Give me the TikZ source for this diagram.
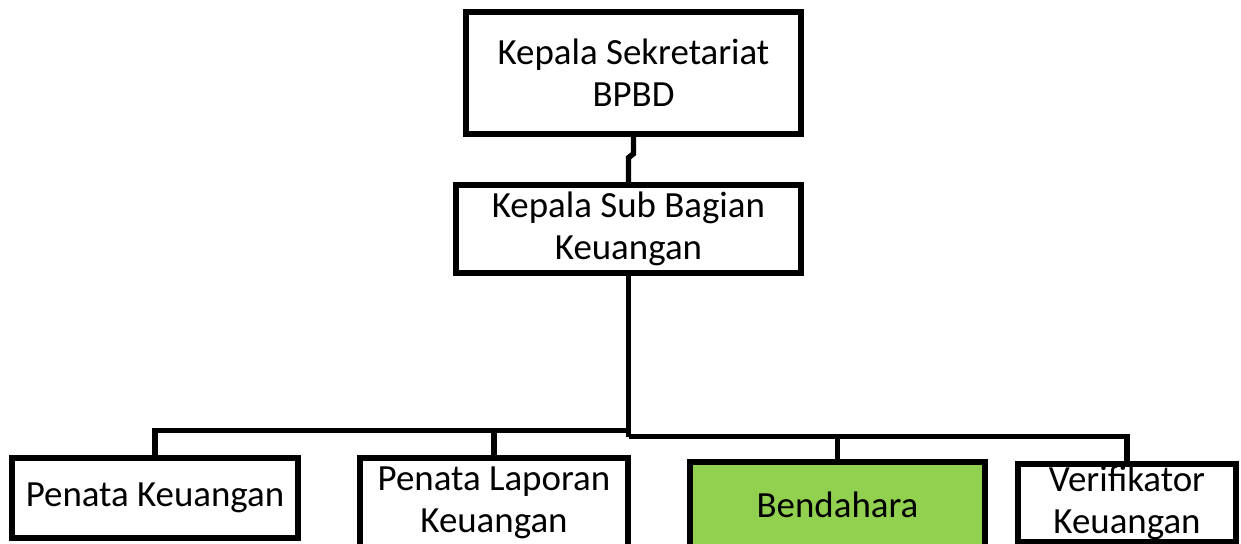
\documentclass[tikz,border=0pt]{standalone}
\usepackage{fontspec}
\setmainfont{Carlito}
\usepackage{tikz}
\usetikzlibrary{positioning, calc}
\usepackage{xcolor}
\definecolor{BoxGreen}{RGB}{146,208,80}
\tikzset{
  orgbox/.style={rectangle,draw=black,line width=3.1pt,fill=white,
    align=center,inner sep=0pt,font=\fontsize{21}{24}\selectfont},
  greenbox/.style={orgbox,fill=BoxGreen},
  link/.style={line width=3.1pt,color=black}
}

\begin{document}
\begin{tikzpicture}[x=0.02cm,y=-0.02cm]
  \useasboundingbox (0,0) rectangle (1241,544);
  \clip (0,0) rectangle (1241,544);
  \node[orgbox,minimum width=6.7cm,minimum height=2.44cm] (kasek) at (633.5,73) {Kepala Sekretariat\\BPBD};
  \node[orgbox,minimum width=6.9cm,minimum height=1.76cm] (kasubag) at (628.5,229) {Kepala Sub Bagian\\Keuangan};
  \node[orgbox,minimum width=5.72cm,minimum height=1.6cm] (penata) at (155,498) {Penata Keuangan};
  \node[orgbox,minimum width=5.36cm,minimum height=1.8cm] (laporan) at (494,503) {Penata Laporan\\Keuangan};
  \node[greenbox,minimum width=5.9cm,minimum height=1.72cm] (bendahara) at (837.5,505) {Bendahara};
  \node[orgbox,minimum width=4.36cm,minimum height=1.56cm] (verif) at (1127,503) {Verifikator\\Keuangan};
  % connectors
  \draw[link] (kasek.south) -- ++(0,17) -- ++(-5,4) -- (kasubag.north);
  \path (kasubag.south) ++(0,155) coordinate (busL) ++(0,6) coordinate (busR);
  \draw[link] (kasubag.south) -- (busR);
  \draw[link] (busL) -| (penata.north);
  \draw[link] (laporan.north) -- (laporan.north |- busL);
  \draw[link] (busR) -| (verif.north);
  \draw[link] (bendahara.north) -- (bendahara.north |- busR);
\end{tikzpicture}
\end{document}
